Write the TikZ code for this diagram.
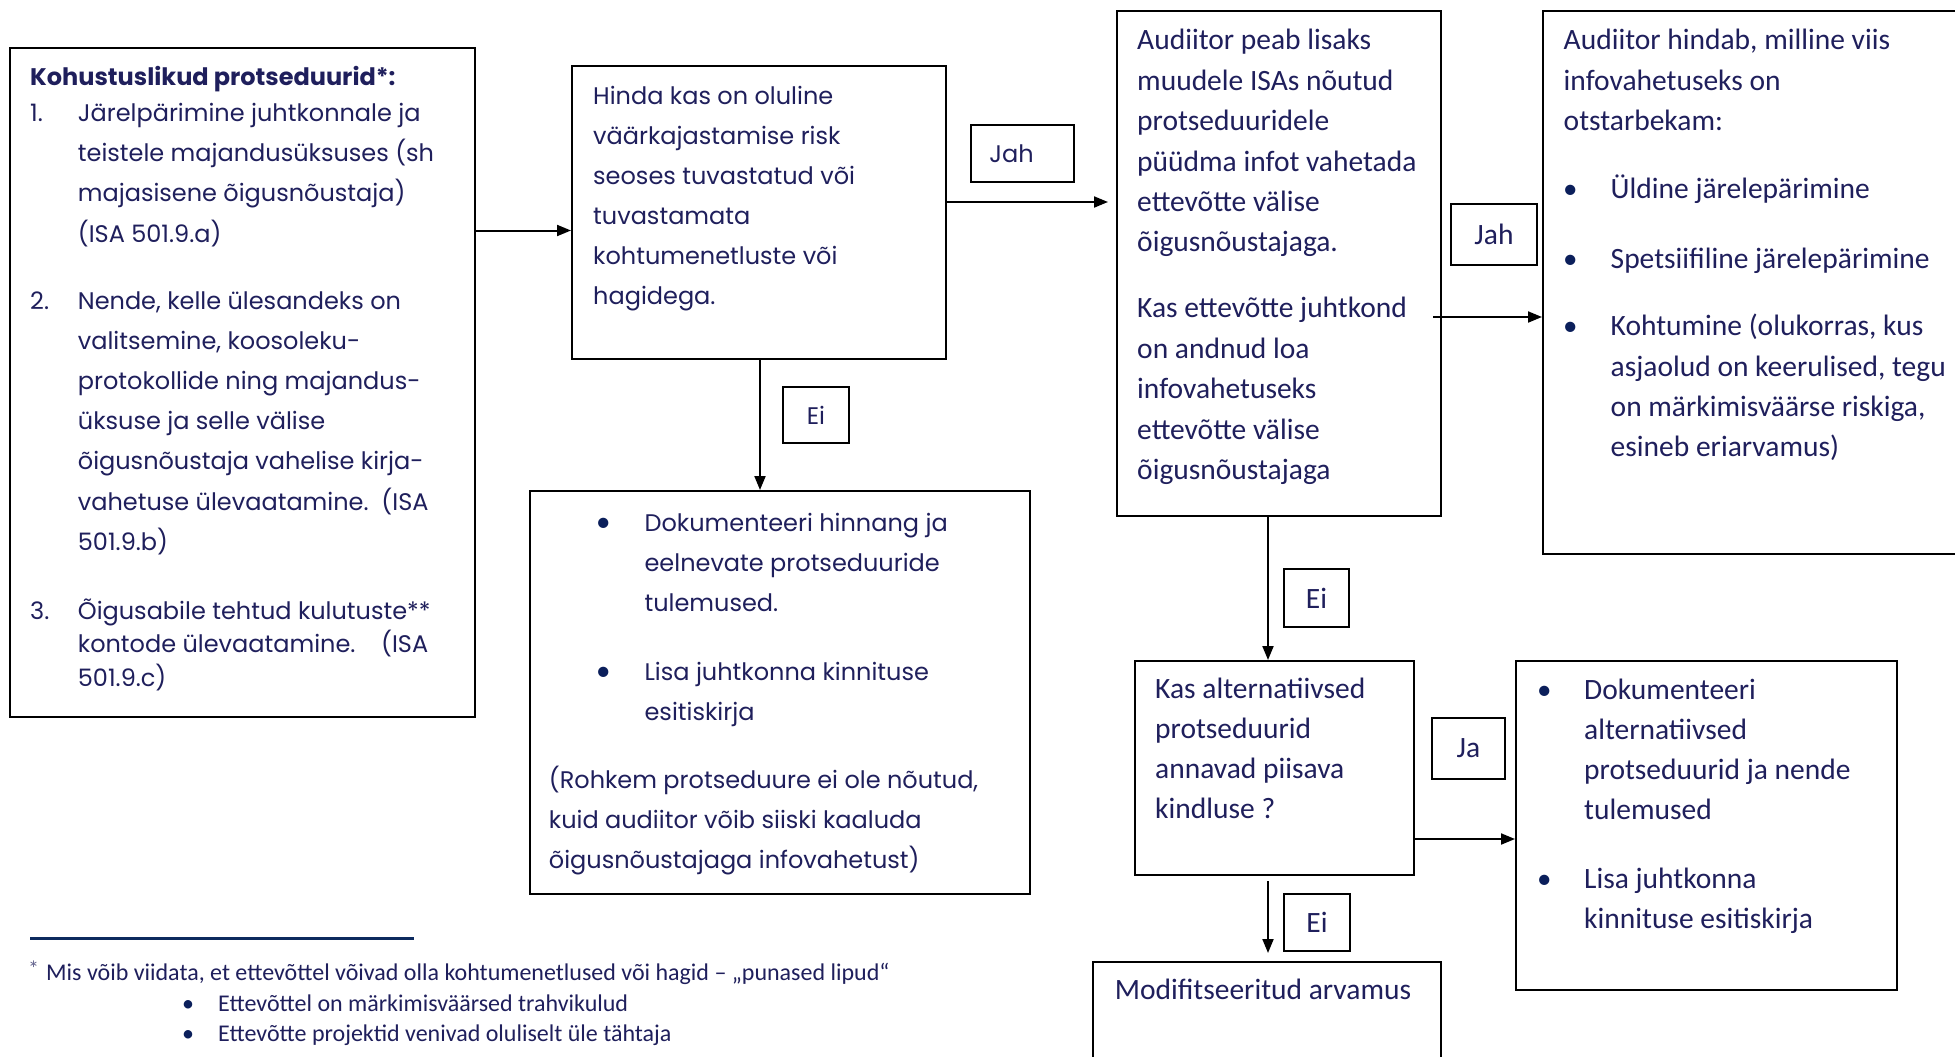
\documentclass[tikz,border=0pt]{standalone}
\usepackage{fontspec}
\usetikzlibrary{arrows.meta,calc}
\setmainfont{Carlito}
\newfontfamily\wf{Poppins}
\newfontfamily\cf{Carlito}
\definecolor{navy}{HTML}{1F1F5C}
\definecolor{bul}{HTML}{0B1F5B}
\definecolor{fnline}{HTML}{0D2A5E}
\newcommand\WL[2][40.2]{\parbox[t]{600pt}{\wf\fontsize{24}{#1}\selectfont\raggedright #2}}
\newcommand\CL[2][40.4]{\parbox[t]{600pt}{\cf\fontsize{29.5}{#1}\selectfont\raggedright #2}}
\newcommand\WN[4][40.2]{\makebox[#2][l]{\wf\fontsize{24}{30}\selectfont #3}\WL[#1]{#4}}
\newcommand\WB[3][40.4]{\makebox[#2][l]{\cf\fontsize{29}{30}\selectfont\textcolor{bul}{\textbullet}}\WL[#1]{#3}}
\newcommand\CB[3][40.4]{\makebox[#2][l]{\cf\fontsize{29}{30}\selectfont\textcolor{bul}{\textbullet}}\CL[#1]{#3}}
\newcommand\FB[1]{\makebox[36pt][l]{\cf\fontsize{24}{28}\selectfont\textcolor{bul}{\textbullet}}\cf\fontsize{24}{28}\selectfont #1}
\begin{document}
\begin{tikzpicture}[x=1pt,y=-1pt,
  box/.style={draw=black,line width=2pt,anchor=north west,inner sep=0},
  lab/.style={draw=black,line width=2pt,anchor=north west,inner sep=0,text=navy},
  tx/.style={anchor=base west,inner sep=0,text=navy},
  arr/.style={line width=2pt,-{Triangle[length=14pt,width=11pt]}}]
\useasboundingbox (0,0) rectangle (1955,1057);
\fill[white] (0,0) rectangle (1955,1057);
\clip (0,0) rectangle (1955,1057);

% boxes
\node[box,minimum width=465pt,minimum height=669pt] (b1) at (9,47) {};
\node[box,minimum width=374pt,minimum height=293pt] (b2) at (571,65) {};
\node[box,minimum width=500pt,minimum height=403pt] (b3) at (529,490) {};
\node[box,minimum width=324pt,minimum height=505pt] (b4) at (1116,10) {};
\node[box,minimum width=450pt,minimum height=543pt] (b5) at (1542,10) {};
\node[box,minimum width=279pt,minimum height=214pt] (b6) at (1134,660) {};
\node[box,minimum width=381pt,minimum height=329pt] (b7) at (1515,660) {};
\node[box,minimum width=348pt,minimum height=150pt] (b8) at (1092,961) {};

% labels
\node[lab,minimum width=103pt,minimum height=57pt] (l1) at (970,124) {\wf\fontsize{24}{30}\selectfont Jah\kern22pt\relax};
\node[lab,minimum width=66pt,minimum height=56pt] (l2) at (782,386) {\wf\fontsize{24}{30}\selectfont Ei};
\node[lab,minimum width=86pt,minimum height=61pt] (l3) at (1450,203) {\cf\fontsize{29.5}{30}\selectfont Jah};
\node[lab,minimum width=65pt,minimum height=58pt] (l4) at (1283,568) {\cf\fontsize{29.5}{30}\selectfont Ei};
\node[lab,minimum width=73pt,minimum height=61pt] (l5) at (1431,717) {\cf\fontsize{29.5}{30}\selectfont Ja};
\node[lab,minimum width=66pt,minimum height=57pt] (l6) at (1283,893) {\cf\fontsize{29.5}{30}\selectfont Ei};

% connectors
\coordinate (y1) at (0,230.5);
\coordinate (y2) at (0,202);
\coordinate (y3) at (0,317);
\coordinate (y4) at (0,839);
\coordinate (x1) at (760,0);
\coordinate (x2) at (1268,0);
\draw[arr] (b1.east |- y1) -- (b2.west |- y1);
\draw[arr] (b2.east |- y2) -- ([xshift=-8pt]b4.west |- y2);
\draw[arr] ([xshift=-9pt]b4.east |- y3) -- (b5.west |- y3);
\draw[arr] (b2.south -| x1) -- (b3.north -| x1);
\draw[arr] (b4.south -| x2) -- (b6.north -| x2);
\draw[arr] (b6.east |- y4) -- (b7.west |- y4);
\draw[arr] ([yshift=-5pt]b6.south -| x2) -- ([yshift=8pt]b8.north -| x2);

% box 1 text
\node[tx] (t1) at (30,85.8) {\WL{\bfseries Kohustuslikud protseduurid*:}};
\node[tx] (t2) at (30,121.5) {\WN{47.7pt}{1.}{Järelpärimine juhtkonnale ja\\teistele majandusüksuses (sh\\majasisene õigusnõustaja)\\(ISA 501.9.a)}};
\node[tx] (t3) at (30,309) {\WN{47.7pt}{2.}{Nende, kelle ülesandeks on\\valitsemine, koosoleku-\\protokollide ning majandus-\\üksuse ja selle välise\\õigusnõustaja vahelise kirja-\\vahetuse ülevaatamine.~~(ISA\\501.9.b)}};
\node[tx] (t4) at (30,619) {\WN[33.5]{47.7pt}{3.}{Õigusabile tehtud kulutuste**\\kontode ülevaatamine.~~~~(ISA\\501.9.c)}};

% Hinda
\node[tx] (t5) at (593,104) {\WL{Hinda kas on oluline\\väärkajastamise risk\\seoses tuvastatud või\\tuvastamata\\kohtumenetluste või\\hagidega.}};

% Dokumenteeri hinnang
\node[tx] (t6) at (596,531) {\WB{48.4pt}{Dokumenteeri hinnang ja\\eelnevate protseduuride\\tulemused.}};
\node[tx] (t7) at (596,680) {\WB{48.4pt}{Lisa juhtkonna kinnituse\\esitiskirja}};
\node[tx] (t8) at (548.7,788) {\WL[40.4]{(Rohkem protseduure ei ole nõutud,\\kuid audiitor võib siiski kaaluda\\õigusnõustajaga infovahetust)}};

% Audiitor peab
\node[tx] (t9) at (1137,50) {\CL{Audiitor peab lisaks\\muudele ISAs nõutud\\protseduuridele\\püüdma infot vahetada\\ettevõtte välise\\õigusnõustajaga.}};
\node[tx] (t10) at (1137,317.9) {\CL{Kas ettevõtte juhtkond\\on andnud loa\\infovahetuseks\\ettevõtte välise\\õigusnõustajaga}};

% Audiitor hindab
\node[tx] (t11) at (1563.5,50) {\CL{Audiitor hindab, milline viis\\infovahetuseks on\\otstarbekam:}};
\node[tx] (t12) at (1563,198) {\CB{47.5pt}{Üldine järelepärimine}};
\node[tx] (t13) at (1563,268) {\CB{47.5pt}{Spetsiifiline järelepärimine}};
\node[tx] (t14) at (1563,335.7) {\CB{47.5pt}{Kohtumine (olukorras, kus\\asjaolud on keerulised, tegu\\on märkimisväärse riskiga,\\esineb eriarvamus)}};

% Kas alternatiivsed
\node[tx] (t15) at (1155,698) {\CL[40.3]{Kas alternatiivsed\\protseduurid\\annavad piisava\\kindluse ?}};

% Dokumenteeri alternatiivsed
\node[tx] (t16) at (1537,699) {\CB[40.3]{47pt}{Dokumenteeri\\alternatiivsed\\protseduurid ja nende\\tulemused}};
\node[tx] (t17) at (1537,888) {\CB[40.3]{47pt}{Lisa juhtkonna\\kinnituse esitiskirja}};

% Modifitseeritud
\node[tx] (t18) at (1114.6,999) {\CL{Modifitseeritud arvamus}};

% footnote
\draw[line width=3pt,color=fnline] (30,938) -- (414,938);
\node[tx,text=navy!70] (f0) at (28,976) {\cf\fontsize{22}{24}\selectfont *};
\node[tx] (f1) at (46,980) {\cf\fontsize{24}{28}\selectfont Mis võib viidata, et ettevõttel võivad olla kohtumenetlused või hagid – „punased lipud“};
\node[tx] (f2) at (182,1011) {\FB{Ettevõttel on märkimisväärsed trahvikulud}};
\node[tx] (f3) at (182,1041) {\FB{Ettevõtte projektid venivad oluliselt üle tähtaja}};
\end{tikzpicture}
\end{document}
